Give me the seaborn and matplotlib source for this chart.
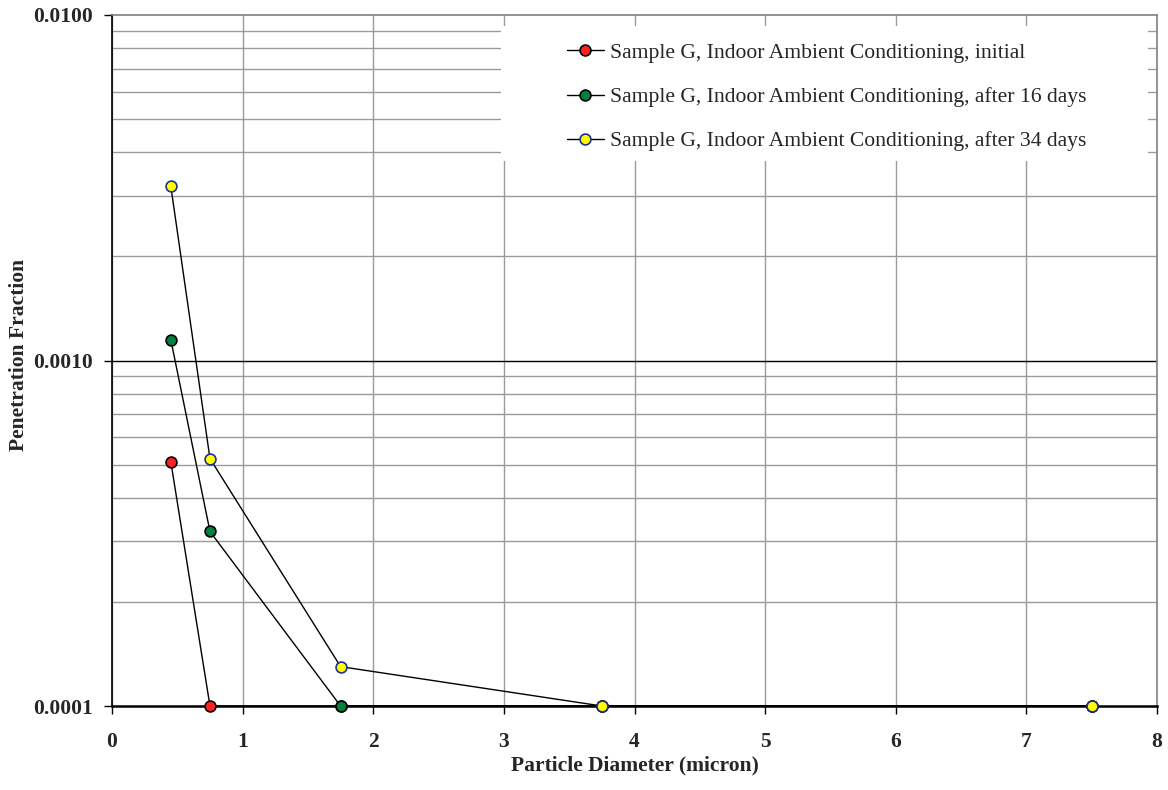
import matplotlib
matplotlib.use("Agg")
import matplotlib.pyplot as plt
from matplotlib.ticker import FixedLocator, FixedFormatter, NullFormatter
from matplotlib.patches import Rectangle
import seaborn as sns

# Penetration fraction vs particle diameter, Sample G under indoor ambient conditioning
diameter = [0.45, 0.75, 1.75, 3.75, 7.5]
pen_initial = [0.00051, 0.0001, 0.0001, 0.0001, 0.0001]
pen_16_days = [0.00115, 0.00032, 0.0001, 0.0001, 0.0001]
pen_34_days = [0.0032, 0.00052, 0.00013, 0.0001, 0.0001]

series_labels = [
    "Sample G, Indoor Ambient Conditioning, initial",
    "Sample G, Indoor Ambient Conditioning, after 16 days",
    "Sample G, Indoor Ambient Conditioning, after 34 days",
]
x_ticks = [0, 1, 2, 3, 4, 5, 6, 7, 8]
y_ticks = [0.0001, 0.001, 0.01]
y_tick_labels = ["0.0001", "0.0010", "0.0100"]
y_minor = [m * d for d in (0.0001, 0.001) for m in range(2, 10)]

sns.set_style("white")
plt.rcParams["font.family"] = ["Liberation Serif", "DejaVu Serif"]
FS = 15.5

fig = plt.figure(figsize=(11.68, 7.90), dpi=100)
ax = fig.add_axes([112 / 1168, 1 - 706 / 790, 1045 / 1168, 691 / 790])

styles = [
    dict(markerfacecolor="#ff2020", markeredgecolor="black"),
    dict(markerfacecolor="#00803c", markeredgecolor="black"),
    dict(markerfacecolor="#ffff00", markeredgecolor="#1f2f8f"),
]
for values, label, st in zip([pen_initial, pen_16_days, pen_34_days], series_labels, styles):
    sns.lineplot(x=diameter, y=values, ax=ax, color="black", linewidth=1.0,
                 marker="o", markersize=7.8, markeredgewidth=1.2, label=label,
                 clip_on=False, zorder=3, **st)

ax.set_yscale("log")
ax.set_xlim(0, 8)
ax.set_ylim(0.0001, 0.01)

ax.xaxis.set_major_locator(FixedLocator(x_ticks))
ax.yaxis.set_major_locator(FixedLocator(y_ticks))
ax.yaxis.set_major_formatter(FixedFormatter(y_tick_labels))
ax.yaxis.set_minor_locator(FixedLocator(y_minor))
ax.yaxis.set_minor_formatter(NullFormatter())

ax.set_axisbelow(True)
ax.grid(True, axis="x", which="major", color="#9a9a9a", linewidth=1.0)
ax.grid(True, axis="y", which="minor", color="#9a9a9a", linewidth=1.0)
ax.axhline(y_ticks[1], color="black", linewidth=1.0, zorder=1)

ax.tick_params(axis="both", which="major", direction="out", length=6, width=1,
               color="black", labelsize=FS, bottom=True, left=True)
ax.tick_params(axis="x", pad=13)
ax.tick_params(axis="y", pad=8)
ax.tick_params(axis="y", which="minor", length=0)
for lab in ax.get_xticklabels() + ax.get_yticklabels():
    lab.set_fontweight("bold")

for side in ("top", "right"):
    ax.spines[side].set_color("#808080")
    ax.spines[side].set_linewidth(1.2)
ax.spines["left"].set_color("black")
ax.spines["left"].set_linewidth(1.2)
ax.spines["bottom"].set_color("black")
ax.spines["bottom"].set_linewidth(1.8)

ax.set_xlabel("Particle Diameter (micron)", fontsize=FS, fontweight="bold")
ax.set_ylabel("Penetration Fraction", fontsize=FS, fontweight="bold")
ax.xaxis.set_label_coords(0.5, -0.072)
ax.yaxis.set_label_coords(-0.0795, 0.508)

# white panel behind the legend
ax.add_patch(Rectangle((0.3722, 0.7887), 0.6191, 0.1954, transform=ax.transAxes,
                       facecolor="white", edgecolor="none", zorder=1.5))
leg = ax.legend(loc="upper left", bbox_to_anchor=(556 / 1168, 1 - 32 / 790),
                bbox_transform=fig.transFigure, frameon=False, fontsize=15.6,
                handlelength=1.7, handletextpad=0.28, labelspacing=1.11, borderpad=0)
leg.set_zorder(4)

fig.savefig("out.png", dpi=100)
